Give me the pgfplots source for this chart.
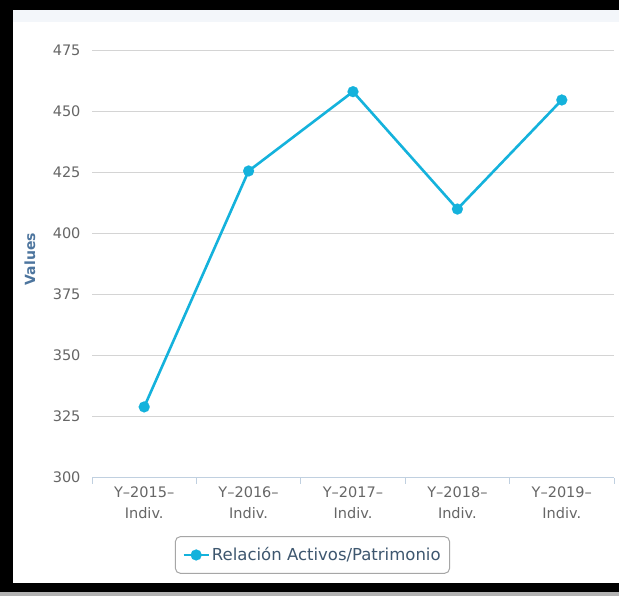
\documentclass[border=0pt]{standalone}
\usepackage{pgfplots}
\pgfplotsset{compat=1.18}
\usepackage{fontspec}
\setmainfont{DejaVu Sans}
\definecolor{serie}{RGB}{20,178,220}
\definecolor{gridc}{RGB}{212,212,212}
\definecolor{axisc}{RGB}{192,208,224}
\definecolor{tickc}{RGB}{102,102,102}
\definecolor{titlec}{RGB}{77,117,158}
\definecolor{legc}{RGB}{62,87,111}
\definecolor{bandc}{RGB}{243,246,250}
\begin{document}
\begin{tikzpicture}[x=1pt,y=1pt]
\useasboundingbox (0,0) rectangle (619,596);
\fill[white] (0,0) rectangle (619,596);
\fill[bandc] (13,574) rectangle (619,586);
\fill[black] (0,4) rectangle (13,596);
\fill[black] (0,586) rectangle (619,596);
\fill[black] (0,4) rectangle (619,13);
\fill[gray!60] (0,0) rectangle (619,4);
\begin{axis}[
  at={(92pt,118.3pt)}, anchor=south west,
  scale only axis, width=522pt, height=427pt,
  xmin=-0.5, xmax=4.5, ymin=300, ymax=475,
  ytick={300,325,...,475},
  xtick={0,1,2,3,4},
  xticklabels={{Y–2015–\\Indiv.},{Y–2016–\\Indiv.},{Y–2017–\\Indiv.},{Y–2018–\\Indiv.},{Y–2019–\\Indiv.}},
  minor xtick={-0.5,0.5,1.5,2.5,3.5,4.5},
  axis x line*=bottom, axis y line*=left,
  x axis line style={draw=axisc, line width=1pt, -},
  y axis line style={draw=none},
  ytick style={draw=none},
  major x tick style={draw=none},
  minor x tick style={draw=axisc, line width=1pt},
  tick align=outside,
  minor tick length=6pt,
  major tick length=0pt,
  ymajorgrids,
  grid style={draw=gridc, line width=1.3pt},
  /pgf/number format/assume math mode=true,
  yticklabel style={font=\fontsize{14.5}{16}\selectfont, text=tickc, xshift=-8pt},
  xticklabel style={align=center, font=\fontsize{14.5}{21}\selectfont, text=tickc, yshift=-6pt},
  ylabel={Values},
  every axis y label/.style={at={(axis description cs:-0.1188,0.512)}, rotate=90, anchor=center, font=\bfseries\fontsize{14}{16}\selectfont, text=titlec},
  legend style={at={(0.4224,-0.181)}, anchor=center, draw=gray!70, rounded corners=5pt, line width=1pt,
    font=\fontsize{16.5}{19}\selectfont, text=legc, inner xsep=7pt, inner ysep=9pt},
  legend image code/.code={\draw[#1, mark repeat=2, mark phase=2] plot coordinates {(0pt,0pt) (12.5pt,0pt) (25pt,0pt)};},
]
\addplot[serie, line width=2.6pt, mark=*, mark size=5.5pt, mark options={fill=serie, draw=serie, line width=0.1pt}]
  coordinates {(0,329) (1,425.7) (2,458.2) (3,410.1) (4,454.8)};
\addlegendentry{Relación Activos/Patrimonio}
\end{axis}
\end{tikzpicture}
\end{document}
